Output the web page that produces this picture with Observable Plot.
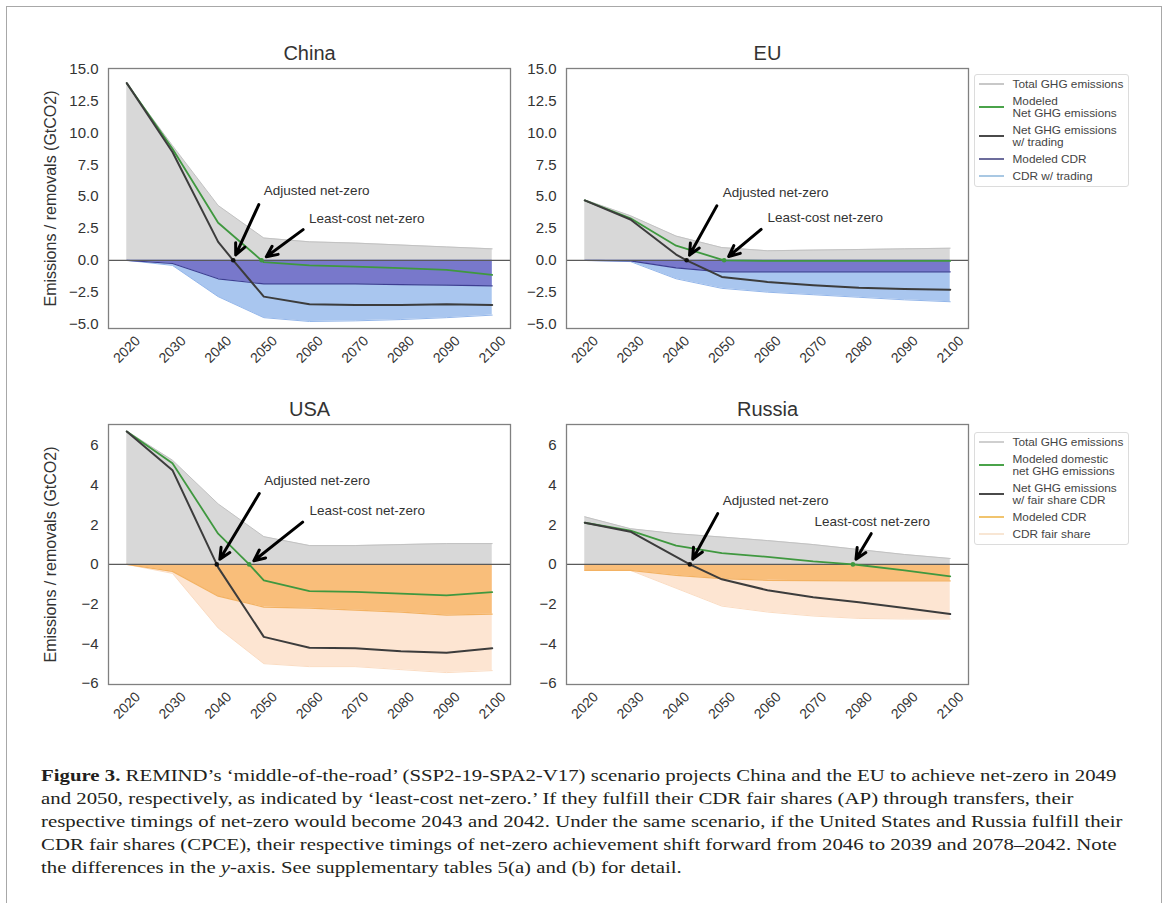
<!DOCTYPE html>
<html><head><meta charset="utf-8">
<script src="https://cdn.jsdelivr.net/npm/d3@7"></script>
<script src="https://cdn.jsdelivr.net/npm/@observablehq/plot@0.6"></script>
<style>
html,body{margin:0;padding:0;background:#fff;}
#page{position:relative;width:1167px;height:903px;overflow:hidden;background:#fff;font-family:"Liberation Sans",Arial,sans-serif;}
.panel{position:absolute;}
.panel svg{overflow:visible;}
.border{position:absolute;left:6px;top:6px;width:1156px;height:940px;border:1.5px solid #a8a8a8;box-sizing:border-box;}
.legend{position:absolute;left:974px;width:155px;border:1px solid #dcdcdc;border-radius:3px;background:#fff;box-sizing:border-box;padding:3px 0 4px 0;font-size:11.8px;color:#444;line-height:12.3px;}
.item{display:flex;align-items:center;margin-bottom:4.5px;}
.item:last-child{margin-bottom:0;}
.sw{width:25px;margin-left:4px;margin-right:8.5px;flex:none;}
#caption{position:absolute;left:0;top:0;}
</style></head>
<body><div id="page"><div class="border"></div></div>
<script>
// ---------- data ----------
const years = [2020, 2030, 2040, 2050, 2060, 2070, 2080, 2090, 2100];
const annLabels = ["Adjusted net-zero", "Least-cost net-zero"];

// China
const chinaTotal = [13.85, 9.0, 4.3, 1.75, 1.45, 1.35, 1.2, 1.05, 0.9];
const chinaModeledYears = [2020, 2030, 2040, 2049.5, 2050, 2060, 2070, 2080, 2090, 2100];
const chinaModeled = [13.9, 8.75, 2.95, 0, -0.15, -0.4, -0.5, -0.62, -0.75, -1.15];
const chinaNetYears = [2020, 2030, 2040, 2043.3, 2050, 2060, 2070, 2080, 2090, 2100];
const chinaNet = [13.9, 8.5, 1.45, 0, -2.85, -3.45, -3.5, -3.5, -3.45, -3.5];
const chinaCDR = [0, -0.25, -1.45, -1.85, -1.85, -1.85, -1.9, -1.95, -2.0];
const chinaCDRTrade = [0, -0.4, -2.85, -4.5, -4.8, -4.75, -4.65, -4.5, -4.3];
const chinaAnnX = [2050.0, 2059.9], chinaAnnY = [5.45, 3.27];
const chinaTailX = [2048.9, 2058.6], chinaTailY = [4.37, 2.41];
const chinaZeroYear = [2043.3, 2049.5];

// EU
const euTotal = [4.75, 3.5, 1.9, 1.0, 0.75, 0.8, 0.85, 0.9, 0.95];
const euModeledYears = [2020, 2030, 2040, 2050.5, 2060, 2070, 2080, 2090, 2100];
const euModeled = [4.7, 3.3, 1.15, 0, -0.05, -0.05, -0.05, -0.05, -0.05];
const euNetYears = [2020, 2030, 2040, 2042.3, 2050, 2060, 2070, 2080, 2090, 2100];
const euNet = [4.7, 3.2, 0.45, 0, -1.3, -1.7, -1.95, -2.15, -2.25, -2.3];
const euCDR = [0, -0.05, -0.6, -0.9, -0.9, -0.9, -0.9, -0.9, -0.9];
const euCDRTrade = [0, -0.1, -1.45, -2.2, -2.5, -2.7, -2.9, -3.1, -3.25];
const euAnnX = [2050.2, 2060.0], euAnnY = [5.31, 3.35];
const euTailX = [2048.9, 2058.6], euTailY = [4.27, 2.43];
const euZeroYear = [2042.3, 2050.5];

// USA
const usaTotal = [6.72, 5.25, 3.05, 1.4, 0.95, 0.95, 1.0, 1.05, 1.05];
const usaModeledYears = [2020, 2030, 2040, 2046.8, 2050, 2060, 2070, 2080, 2090, 2100];
const usaModeled = [6.7, 5.1, 1.55, 0, -0.8, -1.35, -1.38, -1.47, -1.56, -1.4];
const usaNetYears = [2020, 2030, 2039.7, 2040, 2050, 2060, 2070, 2080, 2090, 2100];
const usaNet = [6.7, 4.75, 0, -0.15, -3.65, -4.2, -4.22, -4.38, -4.45, -4.22];
const usaCDR = [0, -0.35, -1.6, -2.15, -2.2, -2.3, -2.4, -2.55, -2.5];
const usaCDRShare = [0, -0.45, -3.2, -5.0, -5.15, -5.15, -5.3, -5.45, -5.35];
const usaAnnX = [2050.1, 2060.0], usaAnnY = [4.2, 2.72];
const usaTailX = [2049.0, 2058.5], usaTailY = [3.57, 2.13];
const usaZeroYear = [2039.7, 2046.8];

// Russia
const rusTotal = [2.4, 1.8, 1.55, 1.38, 1.2, 1.0, 0.75, 0.5, 0.3];
const rusModeledYears = [2020, 2030, 2040, 2050, 2060, 2070, 2078.7, 2080, 2090, 2100];
const rusModeled = [2.1, 1.7, 0.95, 0.57, 0.38, 0.15, 0, -0.03, -0.3, -0.6];
const rusNetYears = [2020, 2030, 2043, 2050, 2060, 2070, 2080, 2090, 2100];
const rusNet = [2.1, 1.65, 0, -0.75, -1.3, -1.65, -1.9, -2.2, -2.5];
const rusCDR = [-0.3, -0.3, -0.55, -0.72, -0.8, -0.82, -0.83, -0.83, -0.83];
const rusCDRShare = [-0.3, -0.3, -1.2, -2.1, -2.4, -2.6, -2.72, -2.75, -2.75];
const rusAnnX = [2050.2, 2070.3], rusAnnY = [3.19, 2.13];
const rusTailX = [2049.1, 2082.7], rusTailY = [2.56, 1.55];
const rusZeroYear = [2043.0, 2078.7];

const ticksTop = [-5, -2.5, 0, 2.5, 5, 7.5, 10, 12.5, 15];
const ticksBottom = [-6, -4, -2, 0, 2, 4, 6];

const legendTop = ["Total GHG emissions", "Modeled\nNet GHG emissions", "Net GHG emissions\nw/ trading", "Modeled CDR", "CDR w/ trading"];
const legendBottom = ["Total GHG emissions", "Modeled domestic\nnet GHG emissions", "Net GHG emissions\nw/ fair share CDR", "Modeled CDR", "CDR fair share"];

const captionLines = [
  ["Figure 3.", " REMIND\u2019s \u2018middle-of-the-road\u2019 (SSP2-19-SPA2-V17) scenario projects China and the EU to achieve net-zero in 2049"],
  ["", "and 2050, respectively, as indicated by \u2018least-cost net-zero.\u2019 If they fulfill their CDR fair shares (AP) through transfers, their"],
  ["", "respective timings of net-zero would become 2043 and 2042. Under the same scenario, if the United States and Russia fulfill their"],
  ["", "CDR fair shares (CPCE), their respective timings of net-zero achievement shift forward from 2046 to 2039 and 2078\u20132042. Note"],
  ["", "the differences in the |y|-axis. See supplementary tables 5(a) and (b) for detail."]
];

// ---------- styles ----------
const blue = {share: "#a9c6ef", shareLine: "#93b6ea", cdr: "#7878cb", cdrLine: "#3e3e92"};
const orange = {share: "#fde5d2", shareLine: "#fbdcc2", cdr: "#f9be7a", cdrLine: "#f3b263"};
const GREEN = "#3f983f", DARK = "#3c3c3c";

const rows = (xs, vs) => xs.map((x, i) => ({x, v: vs[i]}));

function panel(c) {
  const total = rows(years, c.total);
  const share = rows(years, c.share);
  const cdr = rows(years, c.cdr);
  const modeled = rows(c.modeledYears, c.modeled);
  const net = rows(c.netYears, c.net);
  const ann = annLabels.map((label, i) => ({label, ax: c.annX[i], ay: c.annY[i], tx: c.tailX[i], ty: c.tailY[i], zx: c.zero[i], zy: 0}));
  const marks = [
    Plot.areaY(total, {x: "x", y1: 0, y2: "v", fill: "#d8d8d8"}),
    Plot.lineY(total, {x: "x", y: "v", stroke: "#c2c2c2", strokeWidth: 1}),
    Plot.areaY(share, {x: "x", y1: 0, y2: "v", fill: c.pal.share}),
    Plot.lineY(share, {x: "x", y: "v", stroke: c.pal.shareLine, strokeWidth: 1}),
    Plot.areaY(cdr, {x: "x", y1: 0, y2: "v", fill: c.pal.cdr}),
    Plot.lineY(cdr, {x: "x", y: "v", stroke: c.pal.cdrLine, strokeWidth: 1.2}),
    Plot.ruleY([0], {stroke: "#5a5a5a", strokeWidth: 1.3}),
    Plot.lineY(modeled, {x: "x", y: "v", stroke: GREEN, strokeWidth: 1.8}),
    Plot.lineY(net, {x: "x", y: "v", stroke: DARK, strokeWidth: 2}),
    Plot.dot([ann[0]], {x: "zx", y: "zy", r: 2.3, fill: "#111"}),
    Plot.dot([ann[1]], {x: "zx", y: "zy", r: 2.3, fill: GREEN}),
    Plot.arrow(ann, {x1: "tx", y1: "ty", x2: "zx", y2: "zy", stroke: "#000", strokeWidth: 3, headLength: 6, headAngle: 50, insetEnd: 6}),
    Plot.text(ann, {x: "ax", y: "ay", text: "label", textAnchor: "start", fontSize: 13.5, fill: "#333"}),
    Plot.frame({stroke: "#808080", strokeWidth: 1.3}),
    Plot.axisY({ticks: c.ticks, tickFormat: c.fmt, tickSize: 0, tickPadding: 10, fontSize: 15, label: null}),
    Plot.text(years, {x: d => d, text: d => String(d), frameAnchor: "bottom", lineAnchor: "middle", textAnchor: "middle", dy: 21, rotate: -45, fontSize: 14, fill: "#333"}),
    Plot.text([c.title], {frameAnchor: "top", lineAnchor: "middle", textAnchor: "middle", dy: -15, fontSize: 20, fill: "#333"})
  ];
  if (c.ylabel) marks.push(Plot.text([c.ylabel], {frameAnchor: "left", lineAnchor: "middle", textAnchor: "middle", dx: -58, rotate: -90, fontSize: 16, fill: "#333"}));
  return Plot.plot({
    width: 520, height: 390,
    marginLeft: c.ml, marginRight: c.mr, marginTop: 68, marginBottom: 62,
    x: {domain: [2016, 2104], axis: null},
    y: {domain: c.domain, axis: null},
    style: {fontFamily: "'Liberation Sans', Arial, sans-serif", color: "#333", background: "transparent", overflow: "visible"},
    marks
  });
}

const fmt1 = d3.format(".1f"), fmt0 = d3.format("d");
const panels = [
  {left: 0, top: 0, ml: 108, mr: 10, title: "China", ylabel: "Emissions / removals (GtCO2)", domain: [-5.35, 15.05], ticks: ticksTop, fmt: fmt1, pal: blue,
   total: chinaTotal, share: chinaCDRTrade, cdr: chinaCDR, modeledYears: chinaModeledYears, modeled: chinaModeled, netYears: chinaNetYears, net: chinaNet,
   annX: chinaAnnX, annY: chinaAnnY, tailX: chinaTailX, tailY: chinaTailY, zero: chinaZeroYear},
  {left: 460, top: 0, ml: 106, mr: 12, title: "EU", domain: [-5.35, 15.05], ticks: ticksTop, fmt: fmt1, pal: blue,
   total: euTotal, share: euCDRTrade, cdr: euCDR, modeledYears: euModeledYears, modeled: euModeled, netYears: euNetYears, net: euNet,
   annX: euAnnX, annY: euAnnY, tailX: euTailX, tailY: euTailY, zero: euZeroYear},
  {left: 0, top: 356, ml: 108, mr: 10, title: "USA", ylabel: "Emissions / removals (GtCO2)", domain: [-6.05, 7.05], ticks: ticksBottom, fmt: fmt0, pal: orange,
   total: usaTotal, share: usaCDRShare, cdr: usaCDR, modeledYears: usaModeledYears, modeled: usaModeled, netYears: usaNetYears, net: usaNet,
   annX: usaAnnX, annY: usaAnnY, tailX: usaTailX, tailY: usaTailY, zero: usaZeroYear},
  {left: 460, top: 356, ml: 106, mr: 12, title: "Russia", domain: [-6.05, 7.05], ticks: ticksBottom, fmt: fmt0, pal: orange,
   total: rusTotal, share: rusCDRShare, cdr: rusCDR, modeledYears: rusModeledYears, modeled: rusModeled, netYears: rusNetYears, net: rusNet,
   annX: rusAnnX, annY: rusAnnY, tailX: rusTailX, tailY: rusTailY, zero: rusZeroYear}
];

const page = document.getElementById("page");
for (const p of panels) {
  const div = document.createElement("div");
  div.className = "panel";
  div.style.left = p.left + "px";
  div.style.top = p.top + "px";
  div.appendChild(panel(p));
  page.appendChild(div);
}

// ---------- legends ----------
function legend(top, labels, colors, widths) {
  const box = document.createElement("div");
  box.className = "legend";
  box.style.top = top + "px";
  labels.forEach((lab, i) => {
    const item = document.createElement("div");
    item.className = "item";
    const sw = document.createElement("div");
    sw.className = "sw";
    sw.style.height = widths[i] + "px";
    sw.style.background = colors[i];
    const t = document.createElement("div");
    t.innerHTML = lab.split("\n").join("<br>");
    item.appendChild(sw); item.appendChild(t);
    box.appendChild(item);
  });
  page.appendChild(box);
}
legend(74, legendTop, ["#c8c8c8", "#4aa34a", "#4a4a4a", "#6c6c9c", "#a9c8e3"], [1.4, 2, 2.6, 1.6, 1.4]);
legend(432, legendBottom, ["#cfcfcf", "#4aa34a", "#4a4a4a", "#f1c46e", "#f8e6d4"], [1.4, 2, 2.6, 1.6, 1.4]);

// ---------- caption ----------
const svg = d3.select(page).append("svg").attr("id", "caption").attr("width", 1167).attr("height", 903);
const g = svg.append("g");
const baselines = [781, 804, 827, 850, 873];
captionLines.forEach(([bold, rest], i) => {
  const t = g.append("text").attr("x", 0).attr("y", baselines[i])
    .attr("font-family", "'Liberation Serif', 'Times New Roman', serif").attr("font-size", 17.5).attr("fill", "#231f20");
  if (bold) t.append("tspan").attr("font-weight", "bold").text(bold);
  const parts = rest.split("|");
  parts.forEach((s, j) => {
    const sp = t.append("tspan").text(s);
    if (j % 2 === 1) sp.attr("font-style", "italic");
  });
});
const firstLen = g.select("text").node().getComputedTextLength();
const k = 1076 / firstLen;
g.attr("transform", `translate(41,0) scale(${k},1)`);
</script>
</body></html>
